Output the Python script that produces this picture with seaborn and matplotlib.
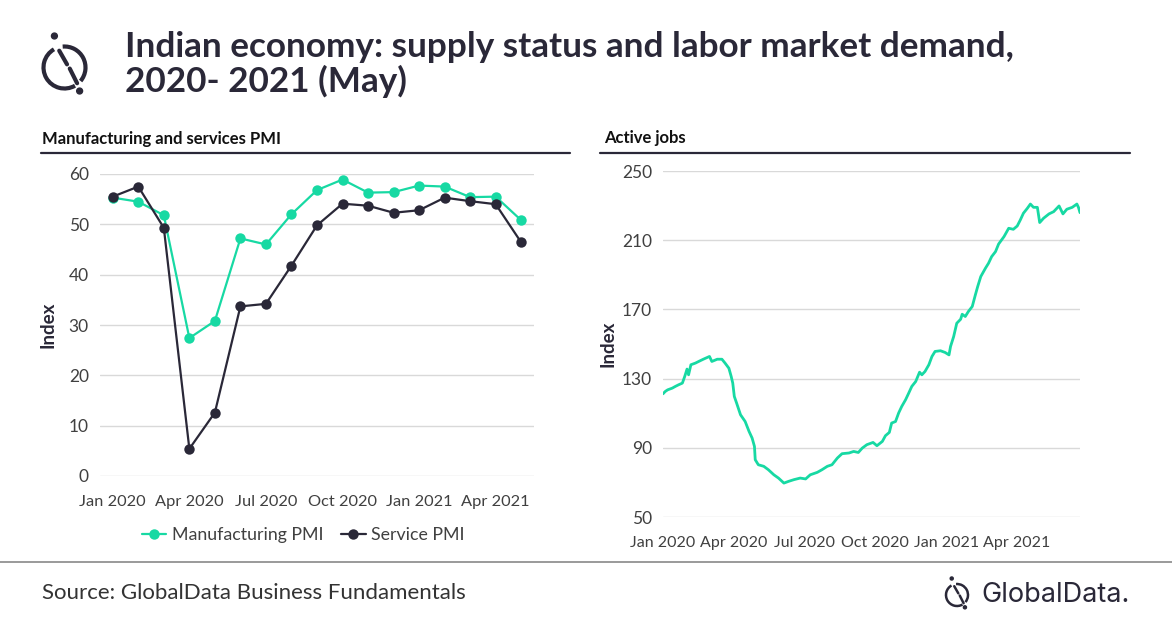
import numpy as np
import pandas as pd
import seaborn as sns
import matplotlib.pyplot as plt
import matplotlib.dates as mdates
from matplotlib.patches import Arc, Circle

# PMI, monthly
months = ["Jan 2020", "Feb 2020", "Mar 2020", "Apr 2020", "May 2020", "Jun 2020",
          "Jul 2020", "Aug 2020", "Sep 2020", "Oct 2020", "Nov 2020", "Dec 2020",
          "Jan 2021", "Feb 2021", "Mar 2021", "Apr 2021", "May 2021"]
manufacturing_pmi = [55.3, 54.5, 51.8, 27.4, 30.8, 47.2, 46.0, 52.0, 56.8, 58.9,
                     56.3, 56.4, 57.7, 57.5, 55.4, 55.5, 50.8]
service_pmi = [55.5, 57.5, 49.3, 5.4, 12.6, 33.7, 34.2, 41.8, 49.8, 54.1,
               53.7, 52.3, 52.8, 55.3, 54.6, 54.0, 46.4]

# Active jobs index, days since 1 Jan 2020
jobs_start = "2020-01-01"
jobs_day = [0, 3, 6, 12, 16, 20, 25, 28, 31, 33, 36, 42, 46, 52, 60, 63, 70, 76, 80, 85,
            88, 90, 92, 95, 100, 106, 111, 115, 118, 119, 123, 130, 136, 143, 149, 156, 162, 169, 177, 184,
            190, 199, 205, 212, 218, 225, 231, 240, 246, 252, 257, 263, 271, 276, 283, 287, 292, 295, 300, 304,
            308, 313, 317, 321, 326, 331, 334, 338, 343, 347, 351, 358, 364, 369, 371, 375, 379, 384, 386, 390,
            394, 399, 403, 406, 410, 416, 420, 424, 429, 433, 440, 446, 452, 457, 461, 465, 470, 474, 478, 483,
            486, 491, 498, 504, 511, 516, 521, 528, 534, 536, 538]
jobs_index = [121.2, 122.6, 123.5, 124.5, 125.5, 126.4, 127.4, 131.2, 135.5, 132.2,
              138.0, 139.0, 139.9, 141.2, 142.8, 139.9, 141.2, 141.2, 139.0, 136.0,
              131.2, 127.4, 119.7, 115.8, 109.1, 105.2, 99.5, 95.6, 90.8, 83.1,
              80.2, 79.3, 77.3, 74.4, 72.5, 69.6, 70.6, 71.6, 72.5, 72.0,
              74.4, 75.8, 77.3, 79.3, 80.2, 84.1, 86.6, 87.0, 87.9, 87.3,
              89.8, 91.8, 93.1, 91.2, 93.7, 97.0, 98.9, 104.3, 105.2, 110.1,
              113.9, 117.8, 121.6, 125.5, 128.3, 133.7, 132.2, 134.1, 138.0, 142.8,
              145.7, 146.1, 145.1, 143.7, 148.6, 154.3, 162.0, 164.3, 167.2, 165.9,
              168.8, 171.7, 178.4, 183.2, 189.0, 193.8, 196.7, 200.5, 203.4, 207.8,
              212.1, 216.9, 216.3, 218.2, 221.7, 225.6, 228.4, 230.9, 229.0, 229.0,
              220.2, 222.7, 225.2, 226.5, 229.8, 225.2, 227.9, 229.0, 230.9, 229.0,
              225.9]

GREEN = "#17D9A3"
NAVY = "#2A2838"
GREY_TXT = "#404040"

sns.set_theme(style="white")
plt.rcParams["font.family"] = ["Lato", "DejaVu Sans"]

W, H = 1172, 628
fig = plt.figure(figsize=(W / 100, H / 100), dpi=100)

def px_axes(x0, y0, x1, y1):
    return fig.add_axes([x0 / W, 1 - y1 / H, (x1 - x0) / W, (y1 - y0) / H])

# decoration layer in pixel coordinates
deco = fig.add_axes([0, 0, 1, 1])
deco.set_xlim(0, W)
deco.set_ylim(H, 0)
deco.axis("off")
deco.patch.set_visible(False)

# ---- left: PMI ----
pmi = pd.DataFrame({"month": months * 2,
                    "value": manufacturing_pmi + service_pmi,
                    "series": ["Manufacturing PMI"] * len(months) + ["Service PMI"] * len(months)})
pmi["pos"] = list(range(len(months))) * 2

ax1 = px_axes(100, 174, 534, 476)
sns.lineplot(data=pmi, x="pos", y="value", hue="series", palette=[GREEN, NAVY],
             marker="o", markersize=7.5, markeredgewidth=0, linewidth=1.6, ax=ax1)
ax1.set_xlim(-0.5, len(months) - 0.5)
ax1.set_ylim(0, 60)
ax1.set_yticks(range(0, 61, 10))
ax1.set_xticks(range(0, len(months), 3))
ax1.set_xticklabels(months[::3])
ax1.set_xlabel("")
ax1.set_ylabel("Index", fontsize=13.5, fontweight="bold", color=NAVY, labelpad=9)
ax1.grid(axis="y", color="#d9d9d9", linewidth=1)
ax1.tick_params(axis="y", length=0, labelsize=12.5, labelcolor=GREY_TXT, pad=8)
ax1.tick_params(axis="x", length=0, labelsize=11.8, labelcolor=GREY_TXT, pad=14)
for s in ax1.spines.values():
    s.set_visible(False)
leg = ax1.legend(loc="center", bbox_to_anchor=(0.468, -0.195), ncol=2, frameon=False,
                 fontsize=12.8, handlelength=1.4, columnspacing=1.0, handletextpad=0.3)
for t in leg.get_texts():
    t.set_color(GREY_TXT)

# ---- right: active jobs ----
jobs = pd.DataFrame({"date": pd.Timestamp(jobs_start) + pd.to_timedelta(jobs_day, unit="D"),
                     "value": jobs_index})
ax2 = px_axes(663, 171, 1080, 517)
sns.lineplot(data=jobs, x="date", y="value", color=GREEN, linewidth=2, ax=ax2)
ax2.set_xlim(jobs["date"].min(), jobs["date"].max())
ax2.set_ylim(50, 250)
ax2.set_yticks(range(50, 251, 40))
ax2.xaxis.set_major_locator(mdates.MonthLocator(bymonth=[1, 4, 7, 10]))
ax2.xaxis.set_major_formatter(mdates.DateFormatter("%b %Y"))
ax2.set_xlabel("")
ax2.set_ylabel("Index", fontsize=13.5, fontweight="bold", color=NAVY, labelpad=4)
ax2.grid(axis="y", color="#d9d9d9", linewidth=1)
ax2.tick_params(axis="y", length=0, labelsize=12.5, labelcolor=GREY_TXT, pad=8)
ax2.tick_params(axis="x", length=0, labelsize=11.5, labelcolor=GREY_TXT, pad=14)
for s in ax2.spines.values():
    s.set_visible(False)

# ---- titles and rules ----
deco.text(125, 31, "Indian economy: supply status and labor market demand,\n2020- 2021 (May)",
          fontsize=25.3, fontweight="bold", color=NAVY, va="top", ha="left", linespacing=1.08)
deco.text(42, 139, "Manufacturing and services PMI", fontsize=12, fontweight="bold",
          color="#111111", va="center")
deco.text(604, 138, "Active jobs", fontsize=12, fontweight="bold", color="#111111", va="center")
deco.plot([41, 570], [153, 153], color=NAVY, linewidth=1.6)
deco.plot([600, 1130], [153, 153], color=NAVY, linewidth=1.6)
deco.plot([0, W], [562, 562], color="#9a9a9a", linewidth=1.4)
deco.text(42, 593, "Source: GlobalData Business Fundamentals", fontsize=16, color="#333333",
          va="center")

# logo icons
def logo(cx, cy, r, lw):
    deco.add_patch(Arc((cx, cy), 2 * r, 2 * r, theta1=60, theta2=240, color=NAVY, lw=lw))
    deco.add_patch(Arc((cx, cy), 2 * r, 2 * r, theta1=265, theta2=40, color=NAVY, lw=lw))
    deco.plot([cx - 0.25 * r, cx + 0.12 * r], [cy - 0.8 * r, cy - 0.15 * r], color=NAVY, lw=lw,
              solid_capstyle="round")
    deco.plot([cx + 0.25 * r, cx + 0.6 * r], [cy + 0.05 * r, cy + 0.75 * r], color=NAVY, lw=lw,
              solid_capstyle="round")
    deco.add_patch(Circle((cx - 0.48 * r, cy - 1.5 * r), 0.14 * r, color=NAVY))
    deco.add_patch(Circle((cx + 0.72 * r, cy + 1.12 * r), 0.14 * r, color=NAVY))

logo(64.5, 67.5, 21, 3.0)
logo(957, 595, 11, 1.8)
deco.text(981, 595, "GlobalData.", fontsize=19.5, color=NAVY, va="center", ha="left",
          family=["Inter", "DejaVu Sans"])

fig.savefig("out.png", dpi=100)
